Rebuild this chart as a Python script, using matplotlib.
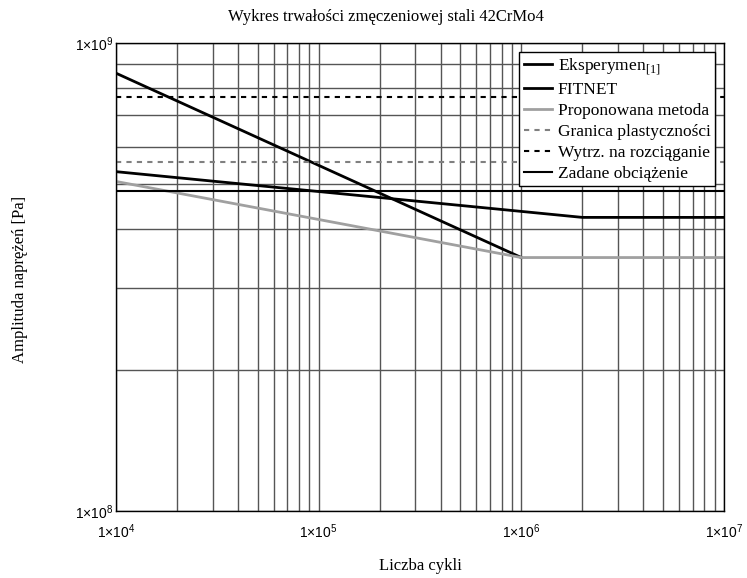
import numpy as np
import matplotlib
matplotlib.use("Agg")
import matplotlib.pyplot as plt
import matplotlib.ticker as ticker

plt.rcParams['font.family'] = ['Liberation Serif', 'DejaVu Serif']
plt.rcParams['mathtext.fontset'] = 'custom'
plt.rcParams['mathtext.rm'] = 'Liberation Serif'
plt.rcParams['mathtext.sf'] = 'Liberation Sans'

# data
eksp_n = [1e4, 1e6]
eksp_s = [8.62e8, 3.48e8]
fitnet_n = [1e4, 2e6, 1e7]
fitnet_s = [5.31e8, 4.24e8, 4.24e8]
prop_n = [1e4, 1e6, 1e7]
prop_s = [5.06e8, 3.48e8, 3.48e8]
granica = 5.57e8     # granica plastycznosci
wytrz = 7.66e8       # wytrzymalosc na rozciaganie
zadane = 4.83e8      # zadane obciazenie
n_range = [1e4, 1e7]

W, H = 747, 578
fig = plt.figure(figsize=(W/100, H/100), dpi=100)
ax = fig.add_axes([116/W, 1-511/H, 608/W, 468/H])

ax.plot(eksp_n, eksp_s, color='black', lw=2, label='Eksperymen$_{[1]}$')
ax.plot(fitnet_n, fitnet_s, color='black', lw=2, label='FITNET')
ax.plot(prop_n, prop_s, color='#a0a0a0', lw=2, label='Proponowana metoda')
ax.plot(n_range, [granica]*2, color='#808080', lw=1.5, dashes=(2.5, 2.5),
        label='Granica plastyczności')
ax.plot(n_range, [wytrz]*2, color='black', lw=1.5, dashes=(2.5, 2.5),
        label='Wytrz. na rozciąganie')
ax.plot(n_range, [zadane]*2, color='black', lw=1.5, label='Zadane obciążenie')

ax.set_xscale('log')
ax.set_yscale('log')
ax.set_xlim(1e4, 1e7)
ax.set_ylim(1e8, 1e9)

ax.xaxis.set_major_locator(ticker.LogLocator(base=10, numticks=10))
ax.xaxis.set_minor_locator(ticker.LogLocator(base=10, subs=np.arange(2, 10), numticks=20))
ax.yaxis.set_major_locator(ticker.LogLocator(base=10, numticks=10))
ax.yaxis.set_minor_locator(ticker.LogLocator(base=10, subs=np.arange(2, 10), numticks=20))

fmt = ticker.FuncFormatter(lambda v, p: r'$\mathsf{1{\times}10^{%d}}$' % round(np.log10(v)))
ax.xaxis.set_major_formatter(fmt)
ax.yaxis.set_major_formatter(fmt)
ax.xaxis.set_minor_formatter(ticker.NullFormatter())
ax.yaxis.set_minor_formatter(ticker.NullFormatter())
ax.tick_params(which='both', length=0, labelsize=10)
ax.tick_params(axis='x', pad=8)
ax.tick_params(axis='y', pad=2)

ax.grid(True, which='both', color='#555555', lw=1)
ax.set_axisbelow(True)
for s in ax.spines.values():
    s.set_color('black')
    s.set_linewidth(1)

fig.text(386/W, 1-17/H, 'Wykres trwałości zmęczeniowej stali 42CrMo4',
         fontsize=12, ha='center', va='center')
fig.text(420/W, 1-566/H, 'Liczba cykli', fontsize=12, ha='center', va='center')
fig.text(20/W, 1-279/H, 'Amplituda naprężeń [Pa]', fontsize=12, ha='center',
         va='center', rotation=90)

leg = ax.legend(loc='upper right', bbox_to_anchor=(0.985, 0.981), borderaxespad=0,
                fontsize=12.5, frameon=True, fancybox=False, framealpha=1,
                edgecolor='black', handlelength=1.6, handletextpad=0.35,
                labelspacing=0.28, borderpad=0.25)
leg.get_frame().set_linewidth(1)

fig.savefig('out.png', dpi=100)
